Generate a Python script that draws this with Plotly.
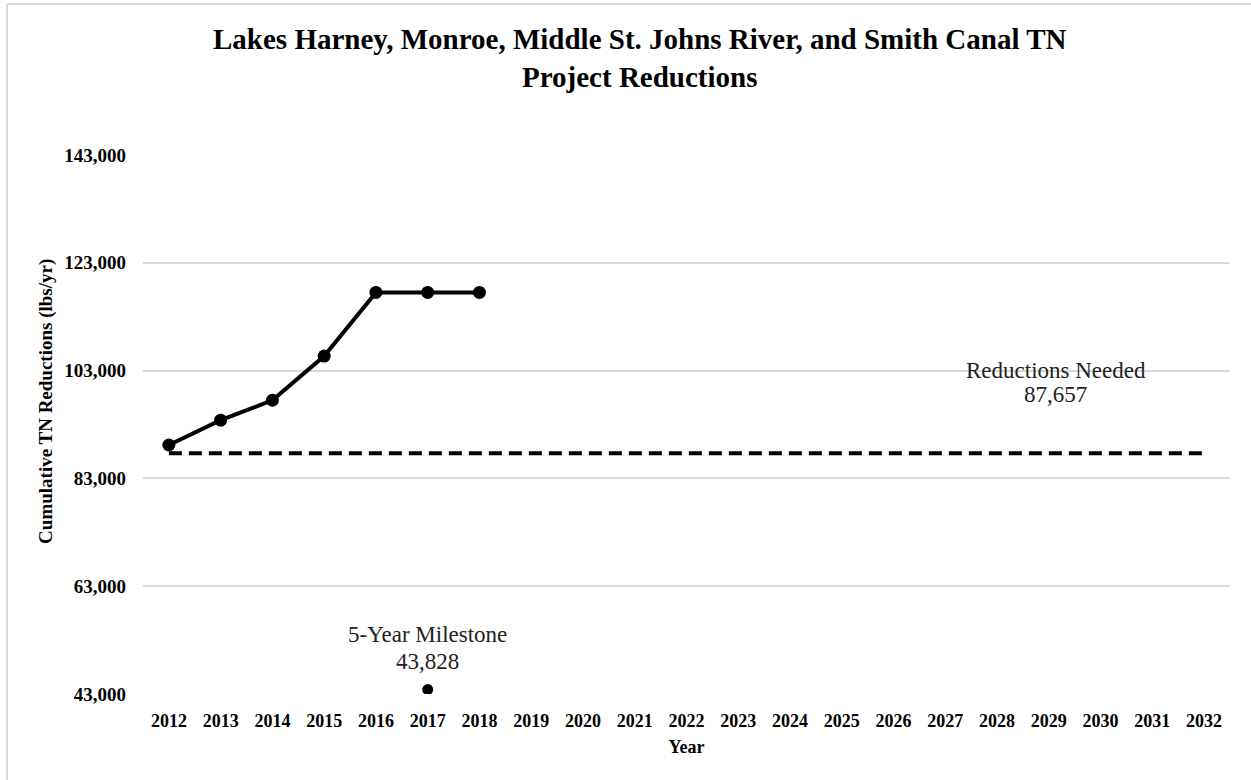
import plotly.graph_objects as go

# Years on the horizontal axis
years = list(range(2012, 2033))

# Cumulative TN project reductions (lbs/yr), reported years
project_years = [2012, 2013, 2014, 2015, 2016, 2017, 2018]
project_reductions = [89200, 93800, 97500, 105700, 117500, 117500, 117500]

# Required reduction target and five-year milestone
reductions_needed = 87657
milestone_year = 2017
milestone_value = 43828

# Y-axis ticks
y_ticks = [43000, 63000, 83000, 103000, 123000, 143000]

SERIF = "Liberation Serif, Times New Roman, serif"

fig = go.Figure()

# Target line across all years
fig.add_trace(go.Scatter(
    x=years,
    y=[reductions_needed] * len(years),
    mode="lines",
    line=dict(color="black", width=4, dash="13px,7px"),
    hoverinfo="skip",
    showlegend=False,
))

# Project reductions
fig.add_trace(go.Scatter(
    x=project_years,
    y=project_reductions,
    mode="lines+markers",
    line=dict(color="black", width=4),
    marker=dict(color="black", size=13),
    showlegend=False,
))

# Five-year milestone
fig.add_trace(go.Scatter(
    x=[milestone_year],
    y=[milestone_value],
    mode="markers",
    marker=dict(color="black", size=11),
    showlegend=False,
))

LABEL_FONT = dict(family=SERIF, size=23, color="#222")

# Data labels, one annotation per line for tight line spacing
for text, shift in [("5-Year Milestone", 55), (f"{milestone_value:,}", 28)]:
    fig.add_annotation(
        x=milestone_year, y=milestone_value, xref="x", yref="y",
        text=text, showarrow=False, yanchor="middle", yshift=shift,
        font=LABEL_FONT,
    )

for text, shift in [("Reductions Needed", 83), (f"{reductions_needed:,}", 59)]:
    fig.add_annotation(
        x=2029.13, y=reductions_needed, xref="x", yref="y",
        text=text, showarrow=False, yanchor="middle", yshift=shift,
        font=LABEL_FONT,
    )

# Chart title
fig.add_annotation(
    x=0.457, xref="paper", y=1.180, yref="paper",
    xanchor="center", yanchor="middle", showarrow=False,
    text="<b>Lakes Harney, Monroe, Middle St. Johns River, and Smith Canal TN<br>Project Reductions</b>",
    font=dict(family=SERIF, size=29, color="black"),
)

# Y-axis title
fig.add_annotation(
    x=-0.0892, xref="paper", y=0.542, yref="paper",
    xanchor="center", yanchor="middle", showarrow=False, textangle=-90,
    text="<b>Cumulative TN Reductions (lbs/yr)</b>",
    font=dict(family=SERIF, size=19, color="black"),
)

# Light frame along the top and left edges
fig.add_shape(type="line", xref="paper", yref="paper",
              x0=-0.1251, x1=1.03, y0=1.2801, y1=1.2801,
              line=dict(color="#d9d9d9", width=2))
fig.add_shape(type="line", xref="paper", yref="paper",
              x0=-0.1251, x1=-0.1251, y0=1.2801, y1=-0.2,
              line=dict(color="#d9d9d9", width=2))

fig.update_layout(
    width=1251, height=780,
    margin=dict(l=143, r=21, t=155, b=86),
    paper_bgcolor="white",
    plot_bgcolor="white",
    xaxis=dict(
        range=[2011.5, 2032.5],
        tickmode="array", tickvals=years,
        ticktext=[f"<b>{y}</b>" for y in years],
        tickfont=dict(family=SERIF, size=18, color="black"),
        showgrid=False, zeroline=False, showline=False,
        ticks="", ticklabelstandoff=14,
        title=dict(text="<b>Year</b>", font=dict(family=SERIF, size=18, color="black"),
                   standoff=10),
    ),
    yaxis=dict(
        range=[43000, 143000],
        tickmode="array", tickvals=y_ticks,
        ticktext=[f"<b>{v:,}</b>" for v in y_ticks],
        tickfont=dict(family=SERIF, size=19, color="black"),
        showgrid=True, gridcolor="#d9d9d9", gridwidth=1.5,
        zeroline=False, showline=False, ticks="", ticklabelstandoff=16,
    ),
)

fig.write_html("out.html")
